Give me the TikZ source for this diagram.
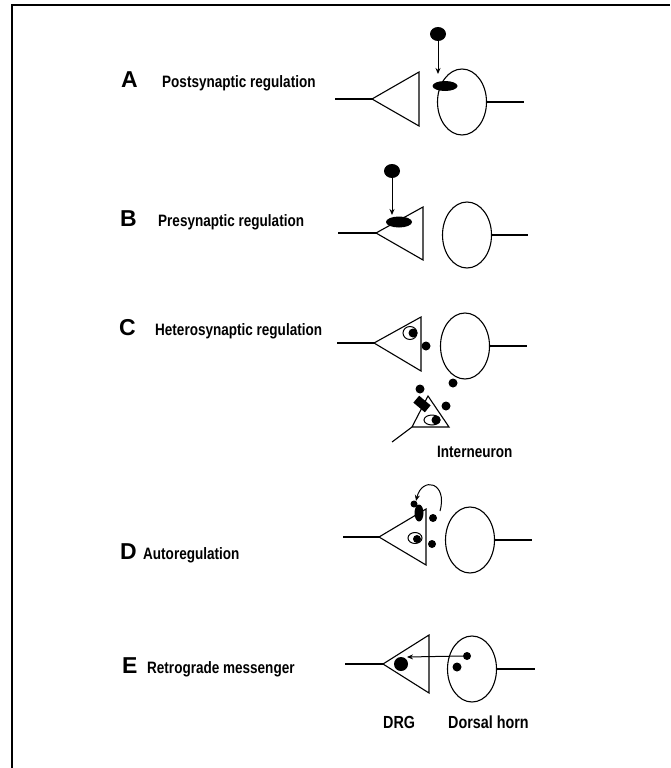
\documentclass[tikz,border=0pt]{standalone}
\usepackage{fontspec}
\setmainfont{Liberation Sans}
\newfontfamily\labfont[FakeStretch=0.82]{Liberation Sans}
\usetikzlibrary{shapes.geometric,arrows.meta,shapes.misc}
\begin{document}
\begin{tikzpicture}[x=1pt,y=-1pt,
  nerve/.style={line width=1.1pt, line join=miter},
  cellbody/.style={draw, ellipse, line width=1.1pt, inner sep=0pt, minimum width=49pt, minimum height=66pt},
  blob/.style={fill=black, ellipse, inner sep=0pt},
  bead/.style={fill=black, circle, inner sep=0pt, minimum size=#1},
  bead/.default=9pt,
  ring/.style={draw, ellipse, line width=1pt, inner sep=0pt},
  arr/.style={line width=1pt, -{Stealth[length=6pt,width=5pt]}},
  panel/.style={anchor=base west, inner sep=0pt, font=\bfseries\fontsize{23}{23}\selectfont},
  caption/.style={anchor=base west, inner sep=0pt, font=\labfont\bfseries\fontsize{16.5}{18}\selectfont},
  bigcap/.style={anchor=base west, inner sep=0pt, font=\labfont\bfseries\fontsize{17.5}{19}\selectfont},
]
\useasboundingbox (0,0) rectangle (670,768);
% frame
\draw[line width=2pt] (12,768) -- (12,5.5) -- (670,5.5);

% ---------- A ----------
\node[panel] (lA) at (121,87) {A};
\node[caption] (tA) at (162,87) {Postsynaptic regulation};
\coordinate (Ain) at (335,99);
\coordinate (Aapex) at (372,99);
\draw[nerve] (Ain) -- (Aapex);
\draw[nerve] (Aapex) -- (419,72) -- (419,126) -- cycle;
\node[cellbody] (Acell) at (462,102) {};
\coordinate (Aout) at (524,102);
\draw[nerve] (Acell.east) -- (Aout);
\node[blob, minimum width=16pt, minimum height=14pt] (Alig) at (438,34) {};
\node[blob, minimum width=25pt, minimum height=10pt] (Arec) at (445,86) {};
\coordinate (Atip) at (438,74);
\draw[arr] (Alig.south) -- (Atip);

% ---------- B ----------
\node[panel] (lB) at (120,226) {B};
\node[caption] (tB) at (158,226) {Presynaptic regulation};
\coordinate (Bin) at (338,233);
\coordinate (Bapex) at (376,233);
\draw[nerve] (Bin) -- (Bapex);
\draw[nerve] (Bapex) -- (423,207) -- (423,260) -- cycle;
\node[cellbody] (Bcell) at (467,235) {};
\coordinate (Bout) at (528,235);
\draw[nerve] (Bcell.east) -- (Bout);
\node[blob, minimum width=16pt, minimum height=14pt] (Blig) at (392,171) {};
\node[blob, minimum width=26pt, minimum height=11pt] (Brec) at (399,222) {};
\coordinate (Btip) at (392,215);
\draw[arr] (Blig.south) -- (Btip);

% ---------- C ----------
\node[panel] (lC) at (119,335) {C};
\node[caption] (tC) at (155,335) {Heterosynaptic regulation};
\coordinate (Cin) at (337,343);
\coordinate (Capex) at (374,343);
\draw[nerve] (Cin) -- (Capex);
\draw[nerve] (Capex) -- (421,317) -- (421,371) -- cycle;
\node[ring, minimum width=14pt, minimum height=13pt] (Cring) at (410,333) {};
\node[bead] (Cv) at (413,333) {};
\node[bead] (Cr1) at (426,346) {};
\node[cellbody] (Ccell) at (465,346) {};
\coordinate (Cout) at (527,346);
\draw[nerve] (Ccell.east) -- (Cout);
\node[bead] (Cr2) at (453,383) {};
\node[bead] (Cr3) at (420,389) {};
\node[bead] (Cr4) at (446,406) {};
% interneuron
\coordinate (Itop) at (428,396);
\coordinate (Ibl) at (412,427);
\coordinate (Ibr) at (449,427);
\coordinate (Itail) at (392,442);
\draw[nerve] (Itop) -- (Ibl) -- (Ibr) -- cycle;
\draw[nerve] (Ibl) -- (Itail);
\node[fill=black, rectangle, inner sep=0pt, minimum width=15pt, minimum height=9pt, rotate=-40] (Irec) at (422,404) {};
\node[ring, minimum width=16pt, minimum height=10pt] (Iring) at (432,420) {};
\node[bead] (Iv) at (436,420) {};
\node[caption] (tI) at (437,457) {Interneuron};

% ---------- D ----------
\node[panel] (lD) at (120,559) {D};
\node[caption] (tD) at (143,559) {Autoregulation};
\coordinate (Din) at (343,537);
\coordinate (Dapex) at (379,537);
\draw[nerve] (Din) -- (Dapex);
\draw[nerve] (Dapex) -- (426,509) -- (426,565) -- cycle;
\node[blob, minimum width=9pt, minimum height=17pt] (Drec) at (419,513) {};
\node[bead=7pt] (Dv0) at (414,504) {};
\node[bead=8pt] (Dr1) at (433,518) {};
\node[bead=8pt] (Dr2) at (432,544) {};
\node[ring, minimum width=14pt, minimum height=11pt] (Dring) at (415,538) {};
\node[bead=8pt] (Dv) at (417,539) {};
\node[cellbody] (Dcell) at (470,540) {};
\coordinate (Dout) at (532,540);
\draw[nerve] (Dcell.east) -- (Dout);
\coordinate (Dstart) at (440,511);
\coordinate (Dtip) at (416,501);
\draw[arr] (Dstart) .. controls (448,482) and (422,476) .. (Dtip);

% ---------- E ----------
\node[panel] (lE) at (122,673) {E};
\node[caption] (tE) at (147,673) {Retrograde messenger};
\coordinate (Ein) at (345,664);
\coordinate (Eapex) at (383,664);
\draw[nerve] (Ein) -- (Eapex);
\draw[nerve] (Eapex) -- (429,635) -- (429,693) -- cycle;
\node[bead=14pt] (Ebig) at (401,664) {};
\node[cellbody] (Ecell) at (472,669) {};
\coordinate (Eout) at (535,669);
\draw[nerve] (Ecell.east) -- (Eout);
\node[bead=8pt] (Eb1) at (467,656) {};
\node[bead] (Eb2) at (457,667) {};
\coordinate (Etip) at (407,657);
\draw[arr] (Eb1.west) -- (Etip);
\node[bigcap] (tDRG) at (383,728) {DRG};
\node[bigcap] (tDH) at (448,728) {Dorsal horn};
\end{tikzpicture}
\end{document}
